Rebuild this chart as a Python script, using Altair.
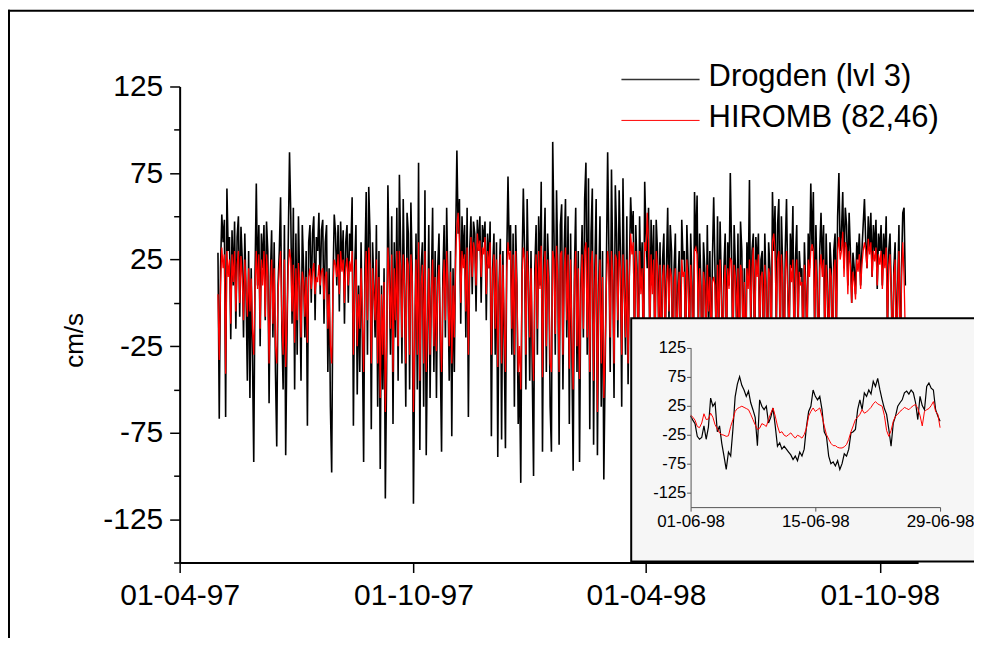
import altair as alt
import pandas as pd

# ---------------- main series: daily values (cm/s) ----------------
drogden_1997_05 = [29, -67, 20, 51, 35, 48, -66, 66, 30, 38, -21, 42, 10, 47, -15, 38, 50, -8, 44, 25, -20, 40, 5, -45, 30, -55, 20, -30, -92, 15, 69]
drogden_1997_06 = [10, 45, -25, 40, 20, 45, -10, 47, 30, -58, 15, 42, -20, 35, -40, -83, 10, 30, 61, -15, -50, 45, -88, -20, 35, 87, 50, -12, 55, -50]
drogden_1997_07 = [40, -30, 50, 10, -45, 45, 20, -20, 30, -71, 35, 45, 0, 40, 50, -10, 38, 30, 52, 5, 42, 48, -12, 35, 45, -40, 20, -60, -98, 10, 51]
drogden_1997_08 = [40, 10, 45, -5, 47, 20, 42, -12, 35, 45, 0, 40, 30, 61, -71, 20, 45, -53, 10, -40, 35, -20, -92, 20, 64, -30, 67, 40, -73, 35, 10]
drogden_1997_09 = [-20, 45, -60, 30, -96, 10, -50, 20, -113, -40, 68, 20, -30, 50, -70, 35, -20, 55, -45, 74, 30, -35, 60, 10, -60, 52, 40, -50, 58, 20]
drogden_1997_10 = [-116, -30, 40, -50, 81, -85, 20, 35, -60, 65, -88, -20, 45, -55, 10, 55, -40, 30, -55, 20, 40, -30, -86, 15, 45, -20, 55, 10, -45, 30, -77]
drogden_1997_11 = [20, -40, 35, 88, 40, 60, -12, 50, 25, 45, -20, 55, -66, 30, 50, 5, 47, 40, -5, 48, 30, 50, 0, 45, 35, 47, -10, 40, 20, 47]
drogden_1997_12 = [-77, 20, 40, -30, 35, -89, 10, 37, -79, 30, -20, -84, 25, 73, 30, 45, -30, 40, -60, 45, 10, -70, -40, -104, 20, 66, 30, -50, 60, 15, -45]
drogden_1998_01 = [30, -40, -100, 20, 45, -30, 50, 10, 70, -86, 25, 55, -40, 40, 15, -60, -86, 93, 40, -30, 65, 20, -82, 45, 57, -50, 30, 60, -20, 50, -70]
drogden_1998_02 = [40, -30, -97, 20, 55, -40, 30, -92, 10, 45, -20, 60, 81, -30, 72, -73, 40, 66, -82, 20, 60, -88, 10, 50, -60, 30, -102, -40]
drogden_1998_03 = [20, 87, 30, -40, 77, 20, -55, 68, 40, -20, 65, 30, -60, 72, 10, -30, 50, -47, 20, 61, 40, 53, -30, 45, 20, -40, 50, 10, 35, -50, 70]
drogden_1998_04 = [40, 20, 55, -30, 48, 10, 45, -40, 48, 30, -20, 35, -50, 25, 40, -30, 20, 55, -10, 45, 30, -60, 20, 40, -35, 10, 30, -45, 48, 25]
drogden_1998_05 = [30, -40, 45, 20, -30, 40, 10, -50, 64, 30, 62, -20, 40, 10, -60, 35, 20, -30, 45, -10, 30, -40, 25, 61, 20, -30, 50, -20, 47, 10, -45]
drogden_1998_06 = [20, 40, -30, 35, 10, 75, 30, -40, 45, 20, -20, 40, -50, 47, 30, -30, 20, -60, 35, 10, 71, -20, 30, 40, -40, 38, 20, 40, -30, 25]
drogden_1998_07 = [30, -30, 40, 10, -50, 35, 20, -40, 64, 30, 56, -20, 45, 60, -35, 50, 20, -60, 30, 60, 10, -30, 40, 20, 56, -40, 25, 45, -20, 30, 15]
drogden_1998_08 = [20, -40, 35, 10, -30, 40, 20, 69, 30, 64, -20, 45, 10, -50, 30, 52, 20, 45, -30, 40, 10, -40, 35, 20, -60, 30, 40, -20, 50, 75, 30]
drogden_1998_09 = [40, 64, 20, 55, 45, 10, 52, 30, 0, 29, 20, 5, 35, 25, 40, 10, 30, 45, 60, 35, 20, 50, 30, 52, 15, 45, 30, 48, 8, 40]
drogden_1998_10 = [30, 45, 10, 40, 25, 50, -20, 30, 40, 5, -40, 20, 35, -30, 10, 45, -50, 20, 52, 55, 10]

hiromb_1997_05 = [5, -33, 10, 32, 20, 28, -41, 30, 15, 25, -12, 28, 12, 30, -5, 22, 30, 0, 27, 15, -10, 25, 8, -8, 20, -5, 14, -15, -30, 10, 30]
hiromb_1997_06 = [8, 28, -15, 25, 10, 30, -8, 28, 15, -35, 5, 25, -12, 20, -25, -35, 5, 20, 30, -10, -30, 25, -37, -10, 20, 31, 25, -5, 22, -23]
hiromb_1997_07 = [20, -10, 23, 10, -20, 18, 12, -8, 15, -23, 15, 20, 8, 18, 23, 5, 15, 12, 22, 10, 18, 20, 2, 15, 18, -15, 5, -25, -35, 8, 25]
hiromb_1997_08 = [22, 15, 28, 5, 30, 18, 25, 0, 20, 26, 10, 24, 18, 30, -30, 10, 25, -25, 5, -15, 20, -8, -40, 10, 30, -10, 32, 22, -35, 20, 5]
hiromb_1997_09 = [-10, 25, -35, 15, -55, 5, -30, 12, -63, -25, 32, 15, -15, 28, -40, 20, -10, 30, -25, 30, 20, -20, 28, 10, -35, 26, 22, -30, 28, 15]
hiromb_1997_10 = [-63, -20, 25, -30, 35, -45, 10, 22, -35, 30, -40, -12, 20, -30, 5, 25, -25, 15, -28, 10, 22, -15, -40, 5, 25, -10, 30, 8, -25, 18, -35]
hiromb_1997_11 = [10, -20, 25, 45, 52, 35, 0, 30, 20, 28, -5, 32, -30, 20, 38, 15, 35, 30, 10, 40, 30, 36, 15, 32, 28, 38, 5, 30, 20, 35]
hiromb_1997_12 = [-30, 15, 28, -15, 25, -37, 5, 28, -35, 22, -10, -40, 18, 35, 25, 30, -15, 28, -30, 30, 8, -40, -25, -50, 15, 32, 25, -30, 30, 12, -20]
hiromb_1998_01 = [20, -20, -45, 10, 28, -15, 30, 8, 33, -43, 15, 30, -25, 25, 10, -35, -40, 30, 25, -18, 33, 12, -40, 28, 30, -30, 18, 32, -10, 28, -38]
hiromb_1998_02 = [25, -20, -50, 12, 30, -25, 20, -44, 5, 28, -15, 30, 35, -20, 32, -40, 22, 30, -45, 10, 28, -63, 5, 25, -35, 15, -55, -30]
hiromb_1998_03 = [10, 30, 20, -20, 30, 13, -35, 28, 25, -10, 30, 20, -30, 28, 8, -20, 25, -35, 15, 40, 28, 35, -20, 30, 15, -25, 30, 5, 20, -30, 35]
hiromb_1998_04 = [30, 52, 35, -20, 28, 5, 25, -30, 30, 20, -15, 22, -35, 15, 22, -20, 12, 22, -5, 20, 15, -40, 10, 20, -25, 5, 18, -30, 25, 15]
hiromb_1998_05 = [18, -25, 25, 12, -20, 22, 5, -35, 30, 32, 28, -10, 20, 5, -40, 18, 10, -20, 22, -5, 15, -25, 12, 15, 10, -20, 22, -12, 25, 5, -30]
hiromb_1998_06 = [10, 22, -20, 20, 8, 26, 24, -25, 22, 15, -10, 20, -35, 22, 18, -20, 12, -40, 20, 8, 25, -10, 20, 32, -25, 25, 15, 28, -20, 15]
hiromb_1998_07 = [18, -20, 22, 8, -35, 20, 15, -25, 35, 40, 30, -10, 25, 30, -20, 28, 12, -40, 18, 30, 5, -18, 22, 12, 25, -25, 15, 25, -12, 18, 10]
hiromb_1998_08 = [12, -25, 22, 8, -20, 25, 15, 30, 34, 30, -12, 25, 8, -35, 20, 28, 15, 25, -20, 22, 8, -30, 20, 15, -40, 18, 25, -15, 30, 38, 25]
hiromb_1998_09 = [30, 41, 15, 35, 32, 5, 30, 22, 0, 18, 12, 2, 25, 18, 28, 8, 22, 30, 35, 30, 20, 37, 28, 35, 15, 30, 24, 32, 10, 28]
hiromb_1998_10 = [22, 30, 8, 28, 20, 32, -15, 22, 28, 5, -30, 15, 25, -40, 8, 30, -45, 15, 35, 15, -20]

# ---------------- inset: June 1998, 6-hourly values (cm/s) ----------------
inset_drogden = [7, 0, -6, -28, -33, -30, -10, -33, -12, 38,
                 24, 30, -20, -10, -40, -62, -85, -55, -62, -16,
                 40, 62, 75, 60, 52, 41, 50, 30, 18, 5,
                 -44, 35, 24, 18, 24, -5, 5, 21, -10, -45,
                 -39, -50, -45, -50, -55, -60, -68, -62, -70, -55,
                 -62, -50, -12, 15, 24, 52, 41, 35, 41, 18,
                 -20, -28, -62, -75, -72, -79, -70, -85, -75, -58,
                 -62, -50, -22, -20, -16, 18, 35, 18, 47, 41,
                 52, 45, 67, 58, 72, 52, 35, 20, 10, -16,
                 -45, -5, 7, 24, 30, 35, 47, 50, 45, 52,
                 47, 30, 1, 41, 25, 18, 58, 64, 55, 52,
                 18, 7, -2]
inset_hiromb = [9, 5, 0, -11, -13, -5, 11, 1, 2, 12,
                5, -8, -15, -22, -25, -26, -28, -27, -11, 1,
                15, 20, 22, 24, 22, 20, 18, 10, 1, -8,
                -16, -14, -6, -8, -11, 1, 12, 21, 7, -10,
                -22, -20, -26, -28, -25, -22, -27, -31, -26, -28,
                -31, -25, -14, 7, 15, 21, 15, 18, 21, 7,
                -10, -25, -33, -40, -44, -44, -47, -48, -48, -46,
                -42, -33, -20, -10, 1, 5, 10, 18, 12, 14,
                18, 22, 28, 32, 28, 26, 24, 8, -18, -28,
                -18, -2, 7, 10, 15, 18, 22, 20, 18, 22,
                25, 27, 20, 8, -10, 15, 18, 20, 25, 32,
                15, 10, -13]

main_y_ticks = [125, 75, 25, -25, -75, -125]
main_y_minor = [100, 50, 0, -50, -100, -150]
legend_labels = ["Drogden (lvl 3)", "HIROMB (82,46)"]

drogden = sum([drogden_1997_05, drogden_1997_06, drogden_1997_07, drogden_1997_08, drogden_1997_09,
               drogden_1997_10, drogden_1997_11, drogden_1997_12, drogden_1998_01, drogden_1998_02,
               drogden_1998_03, drogden_1998_04, drogden_1998_05, drogden_1998_06, drogden_1998_07,
               drogden_1998_08, drogden_1998_09, drogden_1998_10], [])
hiromb = sum([hiromb_1997_05, hiromb_1997_06, hiromb_1997_07, hiromb_1997_08, hiromb_1997_09,
              hiromb_1997_10, hiromb_1997_11, hiromb_1997_12, hiromb_1998_01, hiromb_1998_02,
              hiromb_1998_03, hiromb_1998_04, hiromb_1998_05, hiromb_1998_06, hiromb_1998_07,
              hiromb_1998_08, hiromb_1998_09, hiromb_1998_10], [])

df_d = pd.DataFrame({"date": pd.date_range("1997-05-01", periods=len(drogden), freq="D"), "v": drogden})
df_h = pd.DataFrame({"date": pd.date_range("1997-05-01", periods=len(hiromb), freq="D"), "v": hiromb})
df_id = pd.DataFrame({"date": pd.date_range("1998-06-01", periods=len(inset_drogden), freq="6h"), "v": inset_drogden})
df_ih = pd.DataFrame({"date": pd.date_range("1998-06-01", periods=len(inset_hiromb), freq="6h"), "v": inset_hiromb})

FONT = "Liberation Sans"
W, H = 740, 477
HYPHEN_LABEL = "'' + datum.value"


def dt(y, m, d):
    return alt.DateTime(year=y, month=m, date=d)


# ---------------- main plot ----------------
main_x_scale = alt.Scale(domain=[dt(1997, 4, 1), dt(1998, 10, 31)])
main_y_scale = alt.Scale(domain=[-150, 125], nice=False, zero=False)

x_axis_main = alt.Axis(values=[dt(1997, 4, 1), dt(1997, 10, 1), dt(1998, 4, 1), dt(1998, 10, 1)],
                       format="%d-%m-%y", orient="bottom", grid=False, title=None,
                       tickSize=10, tickWidth=1.5, tickColor="black",
                       domainWidth=2, domainColor="black",
                       labelFont=FONT, labelFontSize=30, labelColor="black", labelPadding=8,
                       labelFlush=False, labelOverlap=False)
y_axis_main = alt.Axis(values=main_y_ticks, orient="left", grid=False, labelExpr=HYPHEN_LABEL,
                       tickSize=10, tickWidth=1.5, tickColor="black",
                       domainWidth=2, domainColor="black",
                       labelFont=FONT, labelFontSize=30, labelColor="black", labelPadding=7,
                       labelOverlap=False,
                       title="cm/s", titleFont=FONT, titleFontSize=26, titleFontWeight="normal",
                       titleColor="black", titleAngle=270, titleX=-105, titleY=254,
                       titleAlign="center", titleBaseline="middle")

black_main = alt.Chart(df_d).mark_line(color="black", strokeWidth=1.6).encode(
    x=alt.X("date:T", scale=main_x_scale, axis=x_axis_main),
    y=alt.Y("v:Q", scale=main_y_scale, axis=y_axis_main),
)
red_main = alt.Chart(df_h).mark_line(color="#ff0000", strokeWidth=1.3).encode(
    x=alt.X("date:T", scale=main_x_scale, axis=None),
    y=alt.Y("v:Q", scale=main_y_scale, axis=None),
)

minor = alt.Chart(pd.DataFrame({"v": main_y_minor})).mark_point(opacity=0).encode(
    y=alt.Y("v:Q", scale=main_y_scale,
            axis=alt.Axis(values=main_y_minor, orient="left", labels=False, domain=False,
                          grid=False, title=None, tickSize=6, tickWidth=1.5, tickColor="black"))
)

# ---------------- inset ----------------
one = pd.DataFrame({"a": [0]})
inset_bg = alt.Chart(one).mark_rect(
    fill="#f6f6f6", stroke="black", strokeWidth=2).encode(
    x=alt.value(452.5), x2=alt.value(812), y=alt.value(232.3), y2=alt.value(476))

in_x_scale = alt.Scale(domain=[dt(1998, 6, 1), dt(1998, 6, 29)], range=[512, 762])
in_y_scale = alt.Scale(domain=[-150, 125], nice=False, zero=False, range=[421.5, 261.7])

in_x_axis = alt.Axis(values=[dt(1998, 6, 1), dt(1998, 6, 15), dt(1998, 6, 29)], format="%d-%m-%y",
                     orient="bottom", offset=-55.5, zindex=2, grid=False, title=None,
                     tickSize=4, tickWidth=1, tickColor="#555555",
                     domainWidth=1, domainColor="#555555",
                     labelFont=FONT, labelFontSize=17, labelColor="black", labelPadding=2,
                     labelFlush=False, labelOverlap=False)
in_y_axis = alt.Axis(values=main_y_ticks, orient="left", offset=-512, zindex=2, grid=False, title=None,
                     labelExpr=HYPHEN_LABEL,
                     tickSize=4, tickWidth=1, tickColor="#555555",
                     domainWidth=1, domainColor="#555555",
                     labelFont=FONT, labelFontSize=16.5, labelColor="black", labelPadding=1,
                     labelOverlap=False)

black_in = alt.Chart(df_id).mark_line(color="black", strokeWidth=1.2).encode(
    x=alt.X("date:T", scale=in_x_scale, axis=in_x_axis),
    y=alt.Y("v:Q", scale=in_y_scale, axis=in_y_axis),
)
red_in = alt.Chart(df_ih).mark_line(color="#ff0000", strokeWidth=1).encode(
    x=alt.X("date:T", scale=in_x_scale, axis=None),
    y=alt.Y("v:Q", scale=in_y_scale, axis=None),
)

# ---------------- legend and frame ----------------
leg_black = alt.Chart(one).mark_rule(color="#333333", strokeWidth=1.3).encode(
    x=alt.value(442.7), x2=alt.value(521), y=alt.value(-7))
leg_red = alt.Chart(one).mark_rule(color="#ff0000", strokeWidth=1).encode(
    x=alt.value(442.7), x2=alt.value(521), y=alt.value(34))
leg_t1 = alt.Chart(one).mark_text(align="left", baseline="middle", font=FONT, fontSize=31,
                                  color="black").encode(
    x=alt.value(530), y=alt.value(-9), text=alt.value(legend_labels[0]))
leg_t2 = alt.Chart(one).mark_text(align="left", baseline="middle", font=FONT, fontSize=31,
                                  color="black").encode(
    x=alt.value(530), y=alt.value(32), text=alt.value(legend_labels[1]))

frame_top = alt.Chart(one).mark_rule(color="black", strokeWidth=2).encode(
    x=alt.value(-172), x2=alt.value(810), y=alt.value(-76))
frame_left = alt.Chart(one).mark_rule(color="black", strokeWidth=2).encode(
    x=alt.value(-171), y=alt.value(-77), y2=alt.value(600))

chart = alt.layer(
    minor, black_main, red_main, inset_bg, black_in, red_in,
    leg_black, leg_red, leg_t1, leg_t2, frame_top, frame_left
).resolve_scale(x="independent", y="independent").properties(
    width=W, height=H,
    autosize=alt.AutoSizeParams(type="none"),
    padding={"left": 172, "top": 78, "right": 56, "bottom": 75},
).configure_view(strokeWidth=0)

chart.save("out.html", embed_options={"renderer": "svg", "actions": False})
